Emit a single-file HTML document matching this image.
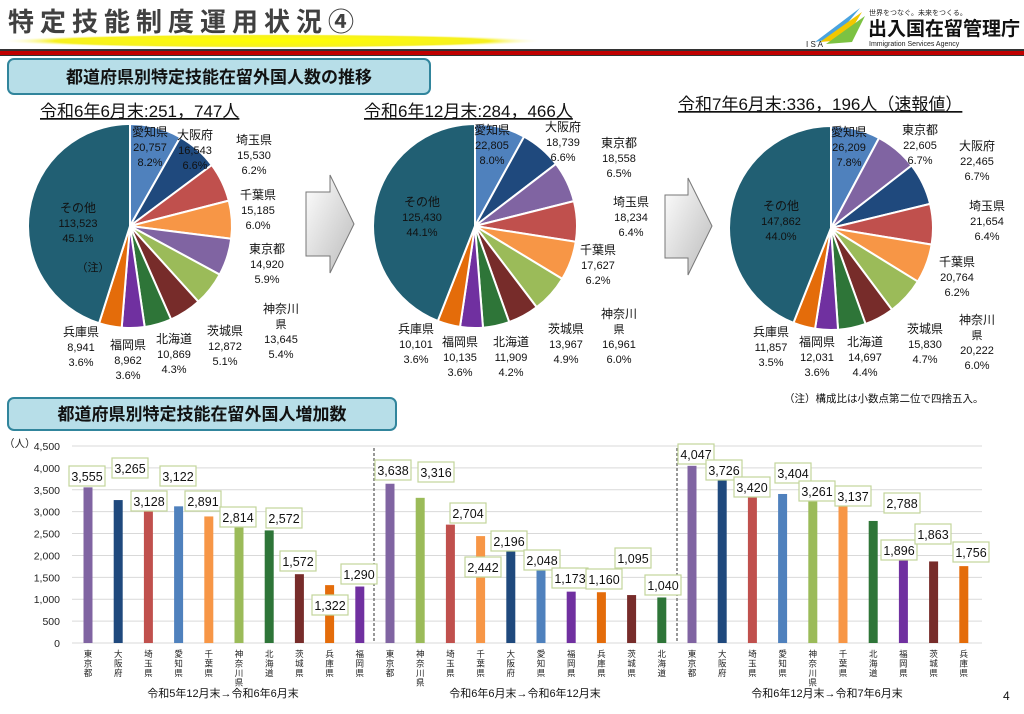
<!DOCTYPE html>
<html><head><meta charset="utf-8"><style>
body{margin:0;width:1024px;height:709px;overflow:hidden;background:#fff;font-family:"Liberation Sans","Noto Sans CJK JP",sans-serif;}
svg text{font-family:"Liberation Sans","Noto Sans CJK JP",sans-serif;}
</style></head><body>
<svg id="s" width="1024" height="709" viewBox="0 0 1024 709" xmlns="http://www.w3.org/2000/svg">
<defs>
<radialGradient id="yl" cx="0.5" cy="0.5" r="0.5"><stop offset="0" stop-color="#ffff00"/><stop offset="0.8" stop-color="#f6f020"/><stop offset="1" stop-color="#fff" stop-opacity="0"/></radialGradient>
<linearGradient id="ar" x1="0" y1="0" x2="1" y2="1"><stop offset="0" stop-color="#fff"/><stop offset="1" stop-color="#bbb"/></linearGradient>
</defs>
<ellipse cx="272" cy="41" rx="272" ry="7" fill="url(#yl)"/>
<text x="8" y="31" font-size="26" font-weight="bold" fill="#404040" letter-spacing="6">特定技能制度運用状況④</text>
<rect x="0" y="49" width="1024" height="2" fill="#333"/>
<rect x="0" y="51" width="1024" height="4" fill="#c00000"/>
<rect x="0" y="55" width="1024" height="1" fill="#333"/>
<polygon points="815,42 860,8 835,38" fill="#4aa3df"/><polygon points="820,42 862,12 845,40" fill="#f2c700"/><polygon points="826,44 865,16 852,42" fill="#7cc242"/>
<text x="806" y="47" font-size="8" fill="#222">I S A</text>
<text x="869" y="15" font-size="7" fill="#222">世界をつなぐ。未来をつくる。</text>
<text x="868" y="35" font-size="19" font-weight="bold" fill="#111">出入国在留管理庁</text>
<text x="869" y="46" font-size="7" fill="#222">Immigration Services Agency</text>
<rect x="8" y="59" width="422" height="35" rx="6" fill="#b7dee8" stroke="#31859c" stroke-width="2"/>
<text x="219" y="83" font-size="17" font-weight="bold" text-anchor="middle" fill="#111">都道府県別特定技能在留外国人数の推移</text>
<rect x="8" y="398" width="388" height="32" rx="6" fill="#b7dee8" stroke="#31859c" stroke-width="2"/>
<text x="202" y="420" font-size="17" font-weight="bold" text-anchor="middle" fill="#111">都道府県別特定技能在留外国人増加数</text>
<text x="40" y="117" font-size="17" fill="#111" text-decoration="underline">令和6年6月末:251，747人</text>
<text x="364" y="117" font-size="17" fill="#111" text-decoration="underline">令和6年12月末:284，466人</text>
<text x="678" y="110" font-size="17" fill="#111" text-decoration="underline">令和7年6月末:336，196人（速報値）</text>
<polygon points="306,192 330,192 330,175 354,224 330,273 330,256 306,256" fill="url(#ar)" stroke="#777"/>
<polygon points="665,195 688,195 688,178 712,226 688,275 688,258 665,258" fill="url(#ar)" stroke="#777"/>
<text x="784" y="402" font-size="10.5" fill="#111">（注）構成比は小数点第二位で四捨五入。</text>
<g id="pies"></g>
<g id="bars"></g>
<text x="1003" y="700" font-size="12" fill="#111">4</text>
</svg>
<script>
var C={東京:"#8064A2",大阪:"#1F497D",埼玉:"#C0504D",愛知:"#4F81BD",千葉:"#F79646",神奈川:"#9BBB59",北海道:"#2E7538",茨城:"#772C2A",兵庫:"#E46C0A",福岡:"#7030A0",他:"#215F73"};
var NS="http://www.w3.org/2000/svg";
function el(p,t,a,txt){var e=document.createElementNS(NS,t);for(var k in a)e.setAttribute(k,a[k]);if(txt!=null)e.textContent=txt;p.appendChild(e);return e;}
var P=document.getElementById("pies");
function pie(cx,cy,r,d){var a=0,tot=0;d.forEach(function(x){tot+=x[1]});d.forEach(function(x){var a0=a,a1=a+x[1]/tot*2*Math.PI;a=a1;
var x0=cx+r*Math.sin(a0),y0=cy-r*Math.cos(a0),x1=cx+r*Math.sin(a1),y1=cy-r*Math.cos(a1);
el(P,"path",{d:"M"+cx+","+cy+"L"+x0+","+y0+"A"+r+","+r+" 0 "+((a1-a0)>Math.PI?1:0)+" 1 "+x1+","+y1+"Z",fill:C[x[0]],stroke:"#fff","stroke-width":2});});}
pie(130,226,102,[["愛知",8.2],["大阪",6.6],["埼玉",6.2],["千葉",6.0],["東京",5.9],["神奈川",5.4],["茨城",5.1],["北海道",4.3],["福岡",3.6],["兵庫",3.6],["他",45.1]]);
pie(475,226,102,[["愛知",8.0],["大阪",6.6],["東京",6.5],["埼玉",6.4],["千葉",6.2],["神奈川",6.0],["茨城",4.9],["北海道",4.2],["福岡",3.6],["兵庫",3.6],["他",44.1]]);
pie(831,228,102,[["愛知",7.8],["東京",6.7],["大阪",6.7],["埼玉",6.4],["千葉",6.2],["神奈川",6.0],["茨城",4.7],["北海道",4.4],["福岡",3.6],["兵庫",3.5],["他",44.0]]);
function lab(x,y,lines,fs){lines.forEach(function(l,i){el(P,"text",{x:x,y:y+i*15,"font-size":i==0&&fs?fs:11,"text-anchor":"middle",fill:"#111"},l);});}
lab(150,136,["愛知県","20,757","8.2%"],12);lab(195,139,["大阪府","16,543","6.6%"],12);lab(254,144,["埼玉県","15,530","6.2%"],12);
lab(258,199,["千葉県","15,185","6.0%"],12);lab(267,253,["東京都","14,920","5.9%"],12);lab(281,313,["神奈川","県","13,645","5.4%"],12);
lab(225,335,["茨城県","12,872","5.1%"],12);lab(174,343,["北海道","10,869","4.3%"],12);lab(128,349,["福岡県","8,962","3.6%"],12);lab(81,336,["兵庫県","8,941","3.6%"],12);
lab(78,212,["その他","113,523","45.1%"],12);el(P,"text",{x:93,y:271,"font-size":11,"text-anchor":"middle",fill:"#111"},"（注）");
lab(492,134,["愛知県","22,805","8.0%"],12);lab(563,131,["大阪府","18,739","6.6%"],12);lab(619,147,["東京都","18,558","6.5%"],12);
lab(631,206,["埼玉県","18,234","6.4%"],12);lab(598,254,["千葉県","17,627","6.2%"],12);lab(619,318,["神奈川","県","16,961","6.0%"],12);
lab(566,333,["茨城県","13,967","4.9%"],12);lab(511,346,["北海道","11,909","4.2%"],12);lab(460,346,["福岡県","10,135","3.6%"],12);lab(416,333,["兵庫県","10,101","3.6%"],12);
lab(422,206,["その他","125,430","44.1%"],12);
lab(849,136,["愛知県","26,209","7.8%"],12);lab(920,134,["東京都","22,605","6.7%"],12);lab(977,150,["大阪府","22,465","6.7%"],12);
lab(987,210,["埼玉県","21,654","6.4%"],12);lab(957,266,["千葉県","20,764","6.2%"],12);lab(977,324,["神奈川","県","20,222","6.0%"],12);
lab(925,333,["茨城県","15,830","4.7%"],12);lab(865,346,["北海道","14,697","4.4%"],12);lab(817,346,["福岡県","12,031","3.6%"],12);lab(771,336,["兵庫県","11,857","3.5%"],12);
lab(781,210,["その他","147,862","44.0%"],12);
var B=document.getElementById("bars");
function Y(v){return 643-v*197/4500;}
for(var v=0;v<=4500;v+=500){el(B,"line",{x1:72,x2:982,y1:Y(v),y2:Y(v),stroke:"#d9d9d9","stroke-width":1});
el(B,"text",{x:60,y:Y(v)+4,"font-size":10.5,"text-anchor":"end",fill:"#222"},v.toLocaleString("en-US"));}
el(B,"text",{x:4,y:447,"font-size":10.5,fill:"#222"},"（人）");
el(B,"line",{x1:374,x2:374,y1:448,y2:643,stroke:"#777","stroke-dasharray":"3,2","stroke-width":1.5});
el(B,"line",{x1:677,x2:677,y1:448,y2:643,stroke:"#777","stroke-dasharray":"3,2","stroke-width":1.5});
var G=[[88,[["東京都","東京",3555,87,476],["大阪府","大阪",3265,130,468],["埼玉県","埼玉",3128,149,501],["愛知県","愛知",3122,178,476],["千葉県","千葉",2891,203,501],["神奈川県","神奈川",2814,238,517],["北海道","北海道",2572,284,518],["茨城県","茨城",1572,298,561],["兵庫県","兵庫",1322,330,605],["福岡県","福岡",1290,359,574]]],
[390,[["東京都","東京",3638,393,470],["神奈川県","神奈川",3316,436,472],["埼玉県","埼玉",2704,468,513],["千葉県","千葉",2442,483,567],["大阪府","大阪",2196,509,541],["愛知県","愛知",2048,542,560],["福岡県","福岡",1173,570,578],["兵庫県","兵庫",1160,604,579],["茨城県","茨城",1095,633,558],["北海道","北海道",1040,663,585]]],
[692,[["東京都","東京",4047,696,454],["大阪府","大阪",3726,724,470],["埼玉県","埼玉",3420,752,487],["愛知県","愛知",3404,793,473],["神奈川県","神奈川",3261,817,491],["千葉県","千葉",3137,853,496],["北海道","北海道",2788,902,503],["福岡県","福岡",1896,899,550],["茨城県","茨城",1863,933,534],["兵庫県","兵庫",1756,971,552]]]];
var cap=["令和5年12月末→令和6年6月末","令和6年6月末→令和6年12月末","令和6年12月末→令和7年6月末"];
G.forEach(function(g,gi){g[1].forEach(function(b,i){var x=g[0]+i*30.2;
el(B,"rect",{x:x-4.5,y:Y(b[2]),width:9,height:643-Y(b[2]),fill:C[b[1]]});
b[0].split("").forEach(function(ch,k){el(B,"text",{x:x,y:657+k*9.5,"font-size":8.5,"text-anchor":"middle",fill:"#222"},ch);});});
g[1].forEach(function(b){el(B,"rect",{x:b[3]-18,y:b[4]-10,width:36,height:20,fill:"#fff",stroke:"#c3d69b","stroke-width":1.2});
el(B,"text",{x:b[3],y:b[4]+5,"font-size":12.5,"text-anchor":"middle",fill:"#111"},b[2].toLocaleString("en-US"));});
el(B,"text",{x:g[0]+135,y:697,"font-size":11,"text-anchor":"middle",fill:"#111"},cap[gi]);});
</script>
</body></html>
